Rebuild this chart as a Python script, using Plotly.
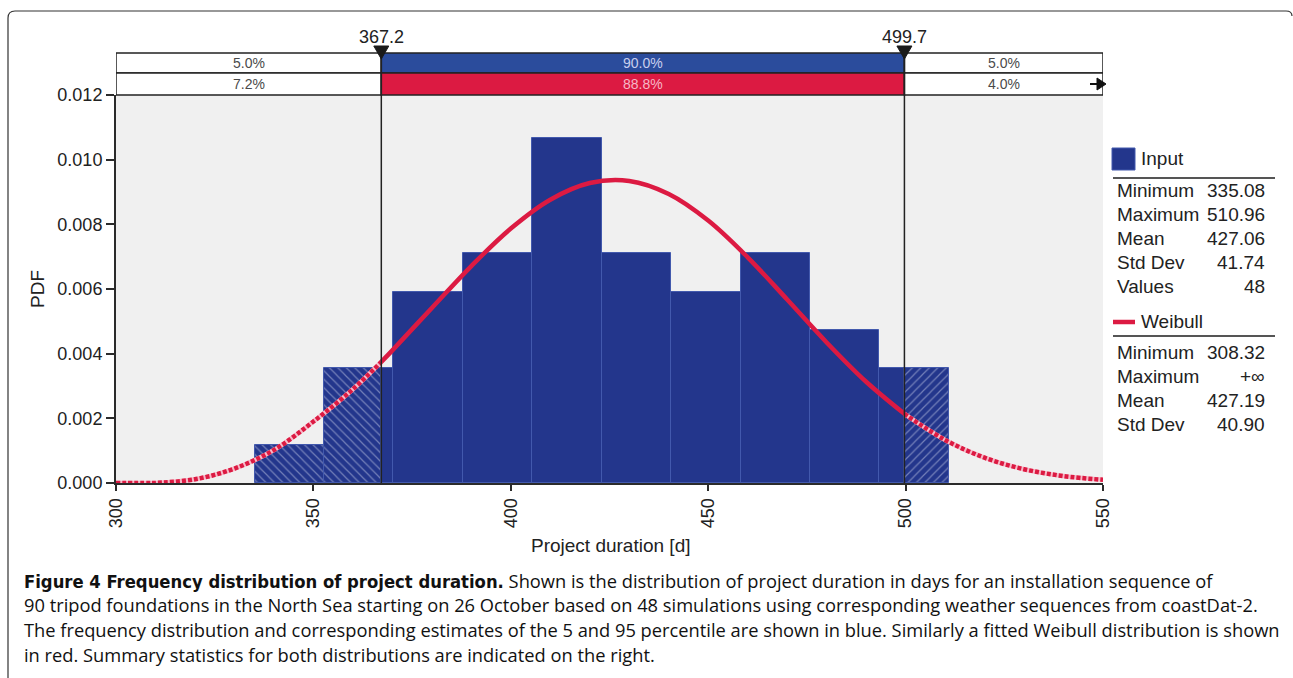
import plotly.graph_objects as go

# Histogram of simulated project durations (48 runs, 10 bins)
bin_edges = [335.08, 352.67, 370.26, 387.84, 405.43, 423.02, 440.61, 458.20, 475.78, 493.37, 510.96]
bin_pdf = [0.00118, 0.00355, 0.00592, 0.00711, 0.01066, 0.00711, 0.00592, 0.00711, 0.00474, 0.00355]

# Fitted Weibull density, sampled along the duration axis
weib_x = [300, 308.32, 310, 320, 330, 340, 350, 360, 367.2, 370, 380, 390, 400, 410, 420,
          430, 440, 450, 460, 470, 480, 490, 499.7, 500, 510, 520, 530, 540, 550]
weib_pdf = [0.0, 0.0, 0.000002, 0.000115, 0.000447, 0.001022, 0.001900, 0.002900, 0.003746,
            0.004102, 0.005413, 0.006710, 0.007870, 0.008762, 0.009278, 0.009341, 0.008938,
            0.008116, 0.006980, 0.005675, 0.004347, 0.003131, 0.002140, 0.002112, 0.001332,
            0.000782, 0.000426, 0.000214, 0.000099]

# 5th / 95th percentile markers and the probability mass in each band
p_low, p_high = 367.2, 499.7
input_band = ["5.0%", "90.0%", "5.0%"]
fit_band = ["7.2%", "88.8%", "4.0%"]

# Summary statistics
input_stat_names = ["Minimum", "Maximum", "Mean", "Std Dev", "Values"]
input_stat_vals = ["335.08", "510.96", "427.06", "41.74", "48"]
fit_stat_names = ["Minimum", "Maximum", "Mean", "Std Dev"]
fit_stat_vals = ["308.32", "+∞", "427.19", "40.90"]

caption_title = "Figure 4 Frequency distribution of project duration."
caption_lines = [
    " Shown is the distribution of project duration in days for an installation sequence of",
    "90 tripod foundations in the North Sea starting on 26 October based on 48 simulations using corresponding weather sequences from coastDat-2.",
    "The frequency distribution and corresponding estimates of the 5 and 95 percentile are shown in blue. Similarly a fitted Weibull distribution is shown",
    "in red. Summary statistics for both distributions are indicated on the right.",
]

X_MIN, X_MAX = 300, 550
NAVY = "#23368c"
EDGE = "#4259ad"
BAND_BLUE = "#2b4c9c"
RED = "#dc1a42"
PINK = "#f7b9c8"
AXIS = "#2b2b2b"
FONT = "Liberation Sans, Arial, Helvetica, sans-serif"

W, H = 1293, 678
L, R, T, B = 116, 190, 95, 195
PW, PH = W - L - R, H - T - B


def px(x):
    return (x - L) / PW


def py(y):
    return (H - B - y) / PH


# split each bin into the parts below, inside and above the percentile band
segs = {"low": ([], [], []), "mid": ([], [], []), "high": ([], [], [])}
for lo, hi, h in zip(bin_edges[:-1], bin_edges[1:], bin_pdf):
    for key, a, b in (("low", lo, min(hi, p_low)),
                      ("mid", max(lo, p_low), min(hi, p_high)),
                      ("high", max(lo, p_high), hi)):
        if b > a:
            segs[key][0].append(a)
            segs[key][1].append(b - a)
            segs[key][2].append(h)

fig = go.Figure()

for key, shape in (("low", "\\"), ("high", "/"), ("mid", "")):
    xs, ws, ys = segs[key]
    marker = dict(color=NAVY, line=dict(color=EDGE, width=1))
    if shape:
        marker["pattern"] = dict(shape=shape, fgcolor="rgba(235,238,250,0.8)",
                                 bgcolor=NAVY, size=6, solidity=0.2)
    fig.add_trace(go.Bar(x=xs, y=ys, width=ws, offset=0, marker=marker,
                         showlegend=False, hoverinfo="skip"))

# Weibull curve: hatched look outside the percentile band, solid inside
lo_x = [x for x in weib_x if x <= p_low]
lo_y = [y for x, y in zip(weib_x, weib_pdf) if x <= p_low]
hi_x = [x for x in weib_x if x >= p_high]
hi_y = [y for x, y in zip(weib_x, weib_pdf) if x >= p_high]
in_x = [x for x in weib_x if p_low <= x <= p_high]
in_y = [y for x, y in zip(weib_x, weib_pdf) if p_low <= x <= p_high]

for xs, ys in ((lo_x, lo_y), (hi_x, hi_y)):
    fig.add_trace(go.Scatter(x=xs, y=ys, mode="lines", line=dict(color=PINK, width=4.5, shape="spline"),
                             showlegend=False, hoverinfo="skip"))
    fig.add_trace(go.Scatter(x=xs, y=ys, mode="lines",
                             line=dict(color=RED, width=4.5, shape="spline", dash="4px,2px"),
                             showlegend=False, hoverinfo="skip"))
fig.add_trace(go.Scatter(x=in_x, y=in_y, mode="lines", line=dict(color=RED, width=4.5, shape="spline"),
                         showlegend=False, hoverinfo="skip"))

shapes = []
annotations = []

# percentile bands above the plot
row1 = (py(53), py(73))
row2 = (py(73), py(95))
band_x = [(X_MIN, p_low), (p_low, p_high), (p_high, X_MAX)]
for (y_top, y_bot), labels, mid_fill, mid_text in ((row1, input_band, BAND_BLUE, "#c9cfee"),
                                                   (row2, fit_band, RED, "#f6b6c6")):
    for i, ((x0, x1), lab) in enumerate(zip(band_x, labels)):
        fill = mid_fill if i == 1 else "white"
        shapes.append(dict(type="rect", xref="x", yref="paper", x0=x0, x1=x1, y0=y_bot, y1=y_top,
                           fillcolor=fill, line=dict(color="#222", width=1.5), layer="above"))
        annotations.append(dict(xref="x", yref="paper", x=(x0 + x1) / 2, y=(y_top + y_bot) / 2,
                                text=lab, showarrow=False, xanchor="center", yanchor="middle",
                                font=dict(family=FONT, size=14, color=mid_text if i == 1 else "#4a4a4a")))

# percentile lines with triangle markers and value labels
dx = 7.5 * (X_MAX - X_MIN) / PW
for p in (p_low, p_high):
    shapes.append(dict(type="line", xref="x", yref="paper", x0=p, x1=p, y0=0, y1=py(50),
                       line=dict(color="#222", width=1.5), layer="above"))
    shapes.append(dict(type="path", xref="x", yref="paper",
                       path=f"M {p - dx},{py(46)} L {p + dx},{py(46)} L {p},{py(59)} Z",
                       fillcolor="#1a1a1a", line=dict(color="#1a1a1a", width=1), layer="above"))
    annotations.append(dict(xref="x", yref="paper", x=p, y=py(37), text=f"{p:.1f}", showarrow=False,
                            xanchor="center", yanchor="middle", font=dict(family=FONT, size=18, color="#222")))

# open-ended arrow on the fitted band
shapes.append(dict(type="line", xref="paper", yref="paper", x0=px(1090), x1=px(1099), y0=py(84), y1=py(84),
                   line=dict(color="#111", width=2), layer="above"))
shapes.append(dict(type="path", xref="paper", yref="paper",
                   path=f"M {px(1097)},{py(78)} L {px(1106)},{py(84)} L {px(1097)},{py(90)} Z",
                   fillcolor="#111", line=dict(color="#111", width=1), layer="above"))

# summary statistics panel
shapes.append(dict(type="rect", xref="paper", yref="paper", x0=px(1112), x1=px(1135), y0=py(170), y1=py(148),
                   fillcolor=NAVY, line=dict(color=EDGE, width=1)))
shapes.append(dict(type="line", xref="paper", yref="paper", x0=px(1113), x1=px(1135), y0=py(322), y1=py(322),
                   line=dict(color=RED, width=4.5)))
for y_line in (178, 336):
    shapes.append(dict(type="line", xref="paper", yref="paper", x0=px(1113), x1=px(1275),
                       y0=py(y_line), y1=py(y_line), line=dict(color="#555", width=2)))

STAT_FONT = dict(family=FONT, size=19, color="#222")
annotations.append(dict(xref="paper", yref="paper", x=px(1139), y=py(158), text="Input", showarrow=False,
                        xanchor="left", yanchor="middle", font=STAT_FONT))
annotations.append(dict(xref="paper", yref="paper", x=px(1139), y=py(321), text="Weibull", showarrow=False,
                        xanchor="left", yanchor="middle", font=STAT_FONT))
for names, vals, y0 in ((input_stat_names, input_stat_vals, 190), (fit_stat_names, fit_stat_vals, 352)):
    for k, (n, v) in enumerate(zip(names, vals)):
        yy = py(y0 + 24 * k)
        annotations.append(dict(xref="paper", yref="paper", x=px(1115), y=yy, text=n, showarrow=False,
                                xanchor="left", yanchor="middle", font=STAT_FONT))
        annotations.append(dict(xref="paper", yref="paper", x=px(1267), y=yy, text=v, showarrow=False,
                                xanchor="right", yanchor="middle", font=STAT_FONT))

# axis titles
annotations.append(dict(xref="paper", yref="paper", x=px(37), y=py(289), text="PDF", textangle=-90,
                        showarrow=False, xanchor="center", yanchor="middle",
                        font=dict(family=FONT, size=19, color="#222")))
annotations.append(dict(xref="paper", yref="paper", x=px(610), y=py(545), text="Project duration [d]",
                        showarrow=False, xanchor="center", yanchor="middle",
                        font=dict(family=FONT, size=19, color="#222")))

# caption: condensed bold title followed by the description
title_span = ('<span style="font-family:Liberation Sans Narrow, DejaVu Sans Condensed, sans-serif;'
              f'font-weight:bold">{caption_title}</span>')
for i, line in enumerate(caption_lines):
    text = title_span + line if i == 0 else line
    annotations.append(dict(xref="paper", yref="paper", x=px(22), y=py(580 + 24.7 * i), text=text,
                            showarrow=False, xanchor="left", yanchor="middle",
                            font=dict(family="Open Sans, sans-serif", size=18.3, color="#111")))

# outer frame with rounded top corners
frame = (f"M {px(8)},{py(700)} L {px(8)},{py(18)} Q {px(8)},{py(11)} {px(15)},{py(11)} "
         f"L {px(1286)},{py(11)} Q {px(1292)},{py(11)} {px(1292)},{py(16)}")
shapes.append(dict(type="path", xref="paper", yref="paper", path=frame,
                   line=dict(color="#333", width=1.2), layer="above"))

fig.update_layout(
    width=W, height=H,
    margin=dict(l=L, r=R, t=T, b=B, pad=0),
    paper_bgcolor="white",
    plot_bgcolor="#f0f0f0",
    barmode="overlay",
    bargap=0,
    shapes=shapes,
    annotations=annotations,
    showlegend=False,
    xaxis=dict(range=[X_MIN, X_MAX], tickvals=[300, 350, 400, 450, 500, 550], tickangle=-90,
               ticks="outside", ticklen=6, tickwidth=2, tickcolor=AXIS,
               showline=True, linewidth=2, linecolor=AXIS, showgrid=False, zeroline=False,
               tickfont=dict(family=FONT, size=18, color="#222")),
    yaxis=dict(range=[0, 0.012], tickvals=[0, 0.002, 0.004, 0.006, 0.008, 0.010, 0.012], tickformat=".3f",
               ticks="outside", ticklen=8, tickwidth=2, tickcolor=AXIS,
               showline=True, linewidth=2, linecolor=AXIS, showgrid=False, zeroline=False,
               tickfont=dict(family=FONT, size=18, color="#222")),
)

fig.write_html("out.html")
